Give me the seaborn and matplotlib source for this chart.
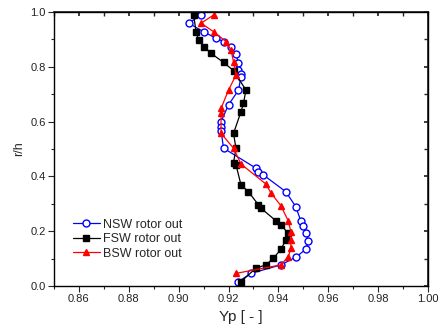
import numpy as np
import pandas as pd
import matplotlib
matplotlib.use("Agg")
import matplotlib.pyplot as plt
import matplotlib.ticker as mticker
import seaborn as sns

# data (Yp vs r/h)
nsw_yp = [0.909, 0.904, 0.910, 0.915, 0.918, 0.921, 0.923, 0.924, 0.924, 0.925,
          0.925, 0.924, 0.920, 0.917, 0.917, 0.917, 0.918, 0.931, 0.932, 0.934,
          0.943, 0.947, 0.949, 0.950, 0.951, 0.952, 0.951, 0.947, 0.941, 0.929, 0.924]
nsw_rh = [0.989, 0.959, 0.928, 0.904, 0.892, 0.873, 0.846, 0.813, 0.788, 0.774,
          0.764, 0.715, 0.661, 0.600, 0.582, 0.567, 0.503, 0.430, 0.415, 0.405,
          0.344, 0.289, 0.237, 0.219, 0.195, 0.164, 0.134, 0.105, 0.077, 0.046, 0.016]

fsw_yp = [0.906, 0.907, 0.908, 0.910, 0.913, 0.918, 0.922, 0.927, 0.926, 0.925,
          0.922, 0.923, 0.922, 0.923, 0.925, 0.928, 0.932, 0.933, 0.939, 0.941,
          0.944, 0.943, 0.941, 0.938, 0.935, 0.931, 0.925]
fsw_rh = [0.989, 0.928, 0.898, 0.874, 0.849, 0.816, 0.786, 0.715, 0.667, 0.636,
          0.557, 0.502, 0.450, 0.442, 0.369, 0.344, 0.296, 0.284, 0.238, 0.223,
          0.192, 0.168, 0.134, 0.101, 0.077, 0.065, 0.016]

bsw_yp = [0.914, 0.909, 0.914, 0.919, 0.921, 0.922, 0.923, 0.920, 0.917, 0.917,
          0.917, 0.922, 0.925, 0.935, 0.937, 0.941, 0.944, 0.945, 0.945, 0.945,
          0.944, 0.941, 0.923]
bsw_rh = [0.989, 0.959, 0.928, 0.892, 0.861, 0.818, 0.770, 0.715, 0.648, 0.630,
          0.557, 0.503, 0.445, 0.372, 0.340, 0.293, 0.237, 0.198, 0.168, 0.138,
          0.107, 0.077, 0.046]

sns.set_theme(style="ticks")
plt.rcParams["font.family"] = ["Liberation Sans", "DejaVu Sans"]

fig = plt.figure(figsize=(4.41, 3.32), dpi=100)
ax = fig.add_axes([0.1224, 0.1386, 0.8481, 0.8253])

series = [
    ("NSW rotor out", nsw_yp, nsw_rh, "blue", "o", "white"),
    ("FSW rotor out", fsw_yp, fsw_rh, "black", "s", "black"),
    ("BSW rotor out", bsw_yp, bsw_rh, "red", "^", "red"),
]
for name, xs, ys, col, mk, fc in series:
    d = pd.DataFrame({"Yp": xs, "rh": ys})
    sns.lineplot(data=d, x="Yp", y="rh", sort=False, estimator=None, ax=ax,
                 color=col, marker=mk, markerfacecolor=fc, markeredgecolor=col,
                 markersize=5, markeredgewidth=1.0, linewidth=0.9, label=name)

ax.set_xlim(0.85, 1.00)
ax.set_ylim(0.0, 1.0)
ax.set_xticks(np.arange(0.86, 1.001, 0.02))
ax.xaxis.set_major_formatter(mticker.FormatStrFormatter("%.2f"))
ax.xaxis.set_minor_locator(mticker.FixedLocator(np.arange(0.85, 1.001, 0.01)))
ax.yaxis.set_major_locator(mticker.MultipleLocator(0.2))
ax.yaxis.set_minor_locator(mticker.MultipleLocator(0.1))
ax.yaxis.set_major_formatter(mticker.FormatStrFormatter("%.1f"))

ax.tick_params(which="major", direction="out", length=4, width=0.8, labelsize=8,
               pad=2, labelcolor="#222222")
ax.tick_params(which="minor", direction="out", length=2.5, width=0.8)

top = ax.secondary_xaxis("top")
top.set_xticks(np.arange(0.86, 1.001, 0.02))
top.xaxis.set_minor_locator(mticker.FixedLocator(np.arange(0.85, 1.001, 0.01)))
top.tick_params(which="both", direction="in", labeltop=False, length=3)
right = ax.secondary_yaxis("right")
right.yaxis.set_major_locator(mticker.MultipleLocator(0.2))
right.yaxis.set_minor_locator(mticker.MultipleLocator(0.1))
right.tick_params(which="both", direction="in", labelright=False, length=3)

for sp in ax.spines.values():
    sp.set_visible(True)
    sp.set_linewidth(1.0)
    sp.set_color("black")

ax.set_xlabel("Yp [ - ]", fontsize=11)
ax.set_ylabel("r/h", fontsize=9)

ax.legend(loc="lower left", bbox_to_anchor=(0.03, 0.068), frameon=False,
          fontsize=9, handlelength=2.2, handletextpad=0.2, labelspacing=0.2,
          borderpad=0.1)

fig.savefig("out.png", dpi=100)
